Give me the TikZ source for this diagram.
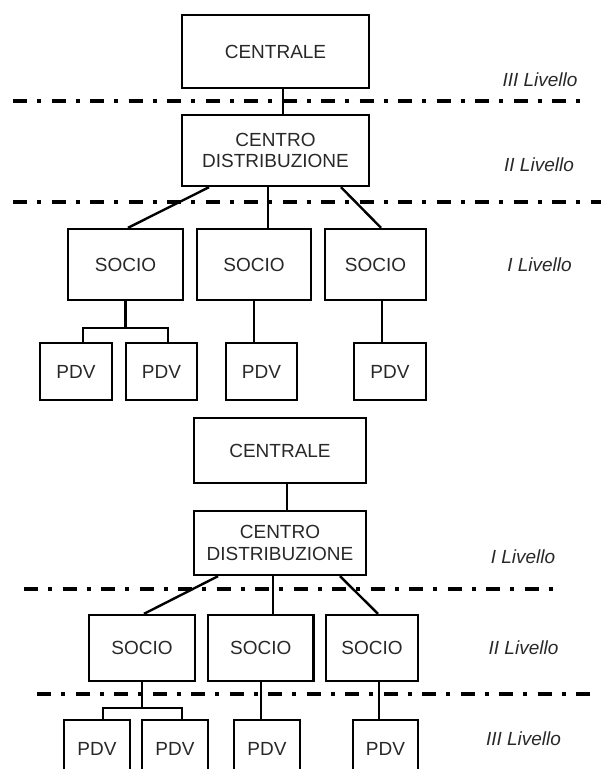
\documentclass[tikz,border=0pt]{standalone}
\usepackage{fontspec}
\setmainfont{Liberation Sans}
\usepackage{tikz}
\usetikzlibrary{positioning,calc}
\definecolor{txt}{RGB}{40,40,40}

\begin{document}
\begin{tikzpicture}[x=1pt, y=-1pt,
  font=\fontsize{19}{21.5}\selectfont, text=txt,
  box/.style={rectangle, draw=black, line width=2.4pt, align=center, inner sep=2pt},
  conn/.style={draw=black, line width=2.4pt},
  lvline/.style={draw=black, line width=4.2pt, dash pattern=on 14pt off 10pt on 4pt off 10.5pt},
  lvl/.style={font=\fontsize{19}{21.5}\selectfont\itshape}]
  \useasboundingbox (0,0) rectangle (601,769);
  \clip (0,0) rectangle (601,769);

  % first scheme
  \node[box, minimum width=187pt, minimum height=73pt] (cen1) at (275.5,51.5) {CENTRALE};
  \node[box, minimum width=187pt, minimum height=71pt] (cd1) at (275.5,150.5) {CENTRO\\DISTRIBUZIONE};
  \node[box, minimum width=115pt, minimum height=71pt] (soc1a) at (125.5,264.5) {SOCIO};
  \node[box, minimum width=114pt, minimum height=71pt] (soc1b) at (254,264.5) {SOCIO};
  \node[box, minimum width=101pt, minimum height=71pt] (soc1c) at (375.5,264.5) {SOCIO};
  \node[box, minimum width=72pt, minimum height=57pt] (pdv1a) at (76,371.5) {PDV};
  \node[box, minimum width=71pt, minimum height=57pt] (pdv1b) at (161.5,371.5) {PDV};
  \node[box, minimum width=71pt, minimum height=57pt] (pdv1c) at (261.5,371.5) {PDV};
  \node[box, minimum width=72pt, minimum height=57pt] (pdv1d) at (390,371.5) {PDV};
  \coordinate (j1) at (125.5,328);

  \draw[conn] ([xshift=7.5pt]cen1.south) -- ([xshift=7.5pt]cd1.north);
  \draw[conn] ([xshift=-66.5pt]cd1.south) -- ([xshift=2.5pt]soc1a.north);
  \draw[conn] ([xshift=-7.5pt]cd1.south) -- ([xshift=14pt]soc1b.north);
  \draw[conn] ([xshift=65.5pt]cd1.south) -- ([xshift=5.5pt]soc1c.north);
  \draw[conn] (soc1a.south) -- (j1);
  \draw[conn] ([xshift=7pt]pdv1a.north) |- (j1) -| ([xshift=6.5pt]pdv1b.north);
  \draw[conn] (soc1b.south) -- (soc1b.south |- pdv1c.north);
  \draw[conn] ([xshift=6.5pt]soc1c.south) -- ([xshift=-8pt]pdv1d.north);

  \draw[lvline] (13,101) -- (590,101);
  \draw[lvline] (13,202) -- (601,202);
  \node[lvl] (l1c) at (540,80) {III Livello};
  \node[lvl] (l1b) at (539,165) {II Livello};
  \node[lvl] (l1a) at (539.5,265) {I Livello};

  % second scheme
  \node[box, minimum width=172pt, minimum height=65pt] (cen2) at (280,450.5) {CENTRALE};
  \node[box, minimum width=172pt, minimum height=64pt] (cd2) at (280,543) {CENTRO\\DISTRIBUZIONE};
  \node[box, minimum width=106pt, minimum height=66pt] (soc2a) at (142,648) {SOCIO};
  \node[box, minimum width=105.5pt, minimum height=66pt] (soc2b) at (260.75,648) {SOCIO};
  \node[box, minimum width=92pt, minimum height=66pt] (soc2c) at (372,648) {SOCIO};
  \node[box, minimum width=66pt, minimum height=57pt] (pdv2a) at (97,748.5) {PDV};
  \node[box, minimum width=66pt, minimum height=57pt] (pdv2b) at (175,748.5) {PDV};
  \node[box, minimum width=66pt, minimum height=57pt] (pdv2c) at (267,748.5) {PDV};
  \node[box, minimum width=65pt, minimum height=57pt] (pdv2d) at (385.5,748.5) {PDV};
  \coordinate (j2) at (142,708);

  \draw[conn] ([xshift=7pt]cen2.south) -- ([xshift=7pt]cd2.north);
  \draw[conn] ([xshift=-62pt]cd2.south) -- ([xshift=2pt]soc2a.north);
  \draw[conn] ([xshift=-7pt]cd2.south) -- ([xshift=12.25pt]soc2b.north);
  \draw[conn] ([xshift=60pt]cd2.south) -- ([xshift=6pt]soc2c.north);
  \draw[conn] (soc2a.south) -- (j2);
  \draw[conn] ([xshift=6pt]pdv2a.north) |- (j2) -| ([xshift=7pt]pdv2b.north);
  \draw[conn] (soc2b.south) -- (soc2b.south |- pdv2c.north);
  \draw[conn] ([xshift=7pt]soc2c.south) -- ([xshift=-6.5pt]pdv2d.north);

  \draw[lvline] (24,589) -- (556,589);
  \draw[lvline] (37,694) -- (590,694);
  \node[lvl] (l2a) at (523,557) {I Livello};
  \node[lvl] (l2b) at (523.5,648) {II Livello};
  \node[lvl] (l2c) at (523.5,739) {III Livello};
\end{tikzpicture}
\end{document}
